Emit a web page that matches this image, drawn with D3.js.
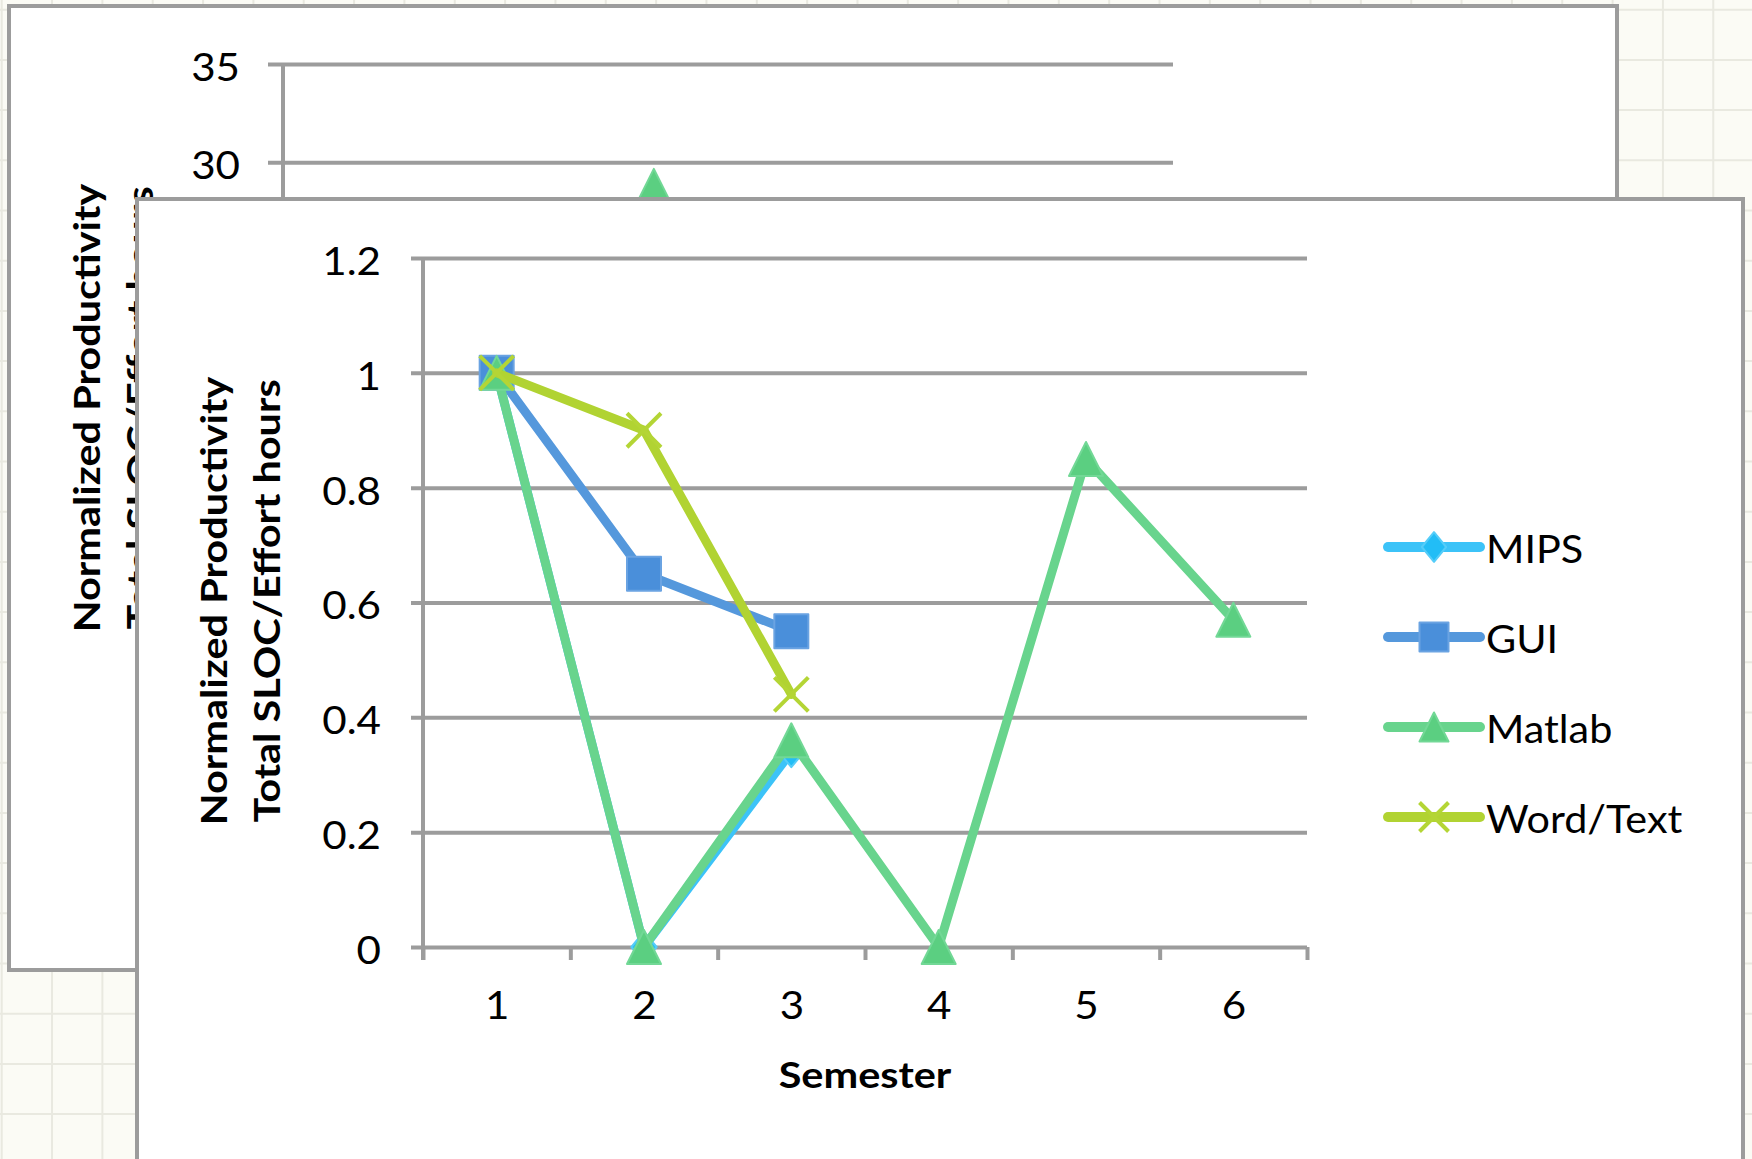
<!DOCTYPE html>
<html><head><meta charset="utf-8">
<script src="https://cdn.jsdelivr.net/npm/d3@7"></script>
<style>
html,body{margin:0;padding:0;background:#fbfbf5;}
svg{display:block;}
text{font-family:Lato,"Open Sans",sans-serif;fill:#000;}
</style></head><body>
<svg id="chart" width="1752" height="1159"></svg>
<script>
// Semesters on the x axis
const semesters = ["1", "2", "3", "4", "5", "6"];

// Normalized productivity per project type (null = no project that semester)
const mips     = [1, 0, 0.34, null, null, null];
const gui      = [1, 0.65, 0.55, null, null, null];
const matlab   = [1, 0, 0.36, 0, 0.85, 0.57];
const wordText = [1, 0.9, 0.44, null, null, null];

const seriesNames = ["MIPS", "GUI", "Matlab", "Word/Text"];
const yTicks = [0, 0.2, 0.4, 0.6, 0.8, 1, 1.2];
const yTickLabels = ["0", "0.2", "0.4", "0.6", "0.8", "1", "1.2"];

// Earlier (raw, un-normalized) sheet lying underneath
const backYTicks = [0, 5, 10, 15, 20, 25, 30, 35];
const backMatlab = [null, null, 28.8, null, null, null];

const W = 1752, H = 1159;
const svg = d3.select("#chart");

const style = {
  MIPS:        {line: "#3cc3f8", fill: "#22bdf6", edge: "#55cdf9", shape: "diamond"},
  GUI:         {line: "#5598dc", fill: "#4a8fda", edge: "#6aa3e2", shape: "square"},
  Matlab:      {line: "#68d48d", fill: "#5bcf81", edge: "#72d896", shape: "triangle"},
  "Word/Text": {line: "#b1d332", fill: "#b4d535", edge: "#b4d535", shape: "x"}
};
const gridColor = "#9c9c9c";
const tickSize = 39, tickWiden = 1.08;

// Widen glyphs along the reading direction (the sheet font is broader than Lato)
function widen(sel, f) {
  sel.each(function () {
    const len = this.getComputedTextLength();
    d3.select(this).attr("textLength", len * f).attr("lengthAdjust", "spacingAndGlyphs");
  });
}

// ---------- graph-paper background ----------
svg.append("rect").attr("width", W).attr("height", H).attr("fill", "#fbfbf5");
const bgGrid = svg.append("g").attr("stroke", "#e9e9e0").attr("stroke-width", 2);
d3.range(1.7, W, 50.34).forEach(x => bgGrid.append("line").attr("x1", x).attr("x2", x).attr("y1", 0).attr("y2", H));
d3.range(9.7, H, 50.2).forEach(y => bgGrid.append("line").attr("x1", 0).attr("x2", W).attr("y1", y).attr("y2", y));

// ---------- marker drawing ----------
function marker(g, shape, cx, cy, s, st) {
  const h = s / 2;
  if (shape === "x") {
    g.append("path")
      .attr("d", `M${cx - h},${cy - h}L${cx + h},${cy + h}M${cx - h},${cy + h}L${cx + h},${cy - h}`)
      .attr("stroke", st.fill).attr("stroke-width", 4).attr("fill", "none");
    return;
  }
  let d;
  if (shape === "square") d = `M${cx - h},${cy - h}h${s}v${s}h${-s}Z`;
  else if (shape === "triangle") d = `M${cx},${cy - h}L${cx + h},${cy + h}L${cx - h},${cy + h}Z`;
  else d = `M${cx},${cy - h * 1.1}L${cx + h * 0.9},${cy}L${cx},${cy + h * 1.1}L${cx - h * 0.9},${cy}Z`;
  g.append("path").attr("d", d).attr("fill", st.fill)
    .attr("stroke", st.edge).attr("stroke-width", 2).attr("stroke-linejoin", "round");
}

function drawTitle(g, x1, x2, cy) {
  [["Normalized Productivity", x1], ["Total SLOC/Effort hours", x2]].forEach(([t, x]) => {
    const txt = g.append("text").attr("transform", `translate(${x},${cy}) rotate(-90)`)
      .attr("text-anchor", "middle").attr("font-weight", 700).attr("font-size", 37).text(t);
    widen(txt, 1.12);
  });
}

// ---------- back sheet ----------
const back = svg.append("g");
back.append("rect").attr("x", 9).attr("y", 6).attr("width", 1608).attr("height", 964)
  .attr("fill", "#fff").attr("stroke", gridColor).attr("stroke-width", 4);
const bL = 283, bR = 1173, bT = 64, bB = 752;
const by = d3.scaleLinear().domain([0, 35]).range([bB, bT]);
const bx = d3.scalePoint().domain(semesters).range([bL, bR]).padding(0.5);
const bAxis = back.append("g").attr("transform", `translate(${bL - 15},0)`)
  .call(d3.axisLeft(by).tickValues(backYTicks).tickSize(-(bR - bL + 15)).tickPadding(28).tickFormat(d3.format("d")));
bAxis.select(".domain").remove();
bAxis.selectAll(".tick line").attr("stroke", gridColor).attr("stroke-width", 4);
bAxis.selectAll(".tick text").attr("font-size", tickSize).attr("dy", "0.42em").attr("font-family", "Lato");
widen(bAxis.selectAll(".tick text"), tickWiden);
back.append("line").attr("x1", bL).attr("x2", bL).attr("y1", bT).attr("y2", bB)
  .attr("stroke", gridColor).attr("stroke-width", 4);
drawTitle(back, 100, 153, 408);
backMatlab.forEach((v, i) => {
  if (v !== null) marker(back, "triangle", bx(semesters[i]), by(v), 34, style.Matlab);
});

// ---------- front sheet ----------
const front = svg.append("g");
front.append("rect").attr("x", 137).attr("y", 199).attr("width", 1606).attr("height", 1000)
  .attr("fill", "#fff").attr("stroke", gridColor).attr("stroke-width", 4);

const L = 423, R = 1307, T = 258, B = 947;
const y = d3.scaleLinear().domain([0, 1.2]).range([B, T]);
const x = d3.scalePoint().domain(semesters).range([L, R]).padding(0.5);

const yAxis = front.append("g").attr("transform", `translate(${L - 12},0)`)
  .call(d3.axisLeft(y).tickValues(yTicks).tickSize(-(R - L + 12)).tickPadding(30)
    .tickFormat((d, i) => yTickLabels[i]));
yAxis.select(".domain").remove();
yAxis.selectAll(".tick line").attr("stroke", gridColor).attr("stroke-width", 4);
yAxis.selectAll(".tick text").attr("font-size", tickSize).attr("dy", "0.42em").attr("font-family", "Lato");
widen(yAxis.selectAll(".tick text"), tickWiden);

// category boundary tick marks under the x axis
const xb = d3.scaleLinear().domain([0, semesters.length]).range([L, R]);
const xTickAxis = front.append("g").attr("transform", `translate(0,${B})`)
  .call(d3.axisBottom(xb).ticks(semesters.length).tickSize(13).tickFormat(""));
xTickAxis.select(".domain").remove();
xTickAxis.selectAll(".tick line").attr("stroke", gridColor).attr("stroke-width", 4);

const xAxis = front.append("g").attr("transform", `translate(0,${B})`)
  .call(d3.axisBottom(x).tickSize(0).tickPadding(44));
xAxis.select(".domain").remove();
xAxis.selectAll(".tick text").attr("font-size", tickSize).attr("font-family", "Lato").attr("dy", "0.71em");
widen(xAxis.selectAll(".tick text"), tickWiden);

front.append("line").attr("x1", L).attr("x2", L).attr("y1", T).attr("y2", B + 13)
  .attr("stroke", gridColor).attr("stroke-width", 4);

drawTitle(front, 227, 280, 601);
const xTitle = front.append("text").attr("x", (L + R) / 2).attr("y", 1088).attr("text-anchor", "middle")
  .attr("font-weight", 700).attr("font-size", 37).text("Semester");
widen(xTitle, 1.12);

// series lines and markers, drawn in series order
const seriesData = [mips, gui, matlab, wordText];
const line = d3.line().defined(d => d.v !== null).x(d => x(d.s)).y(d => y(d.v));
seriesNames.forEach((name, k) => {
  const st = style[name];
  const pts = semesters.map((s, i) => ({s, v: seriesData[k][i]}));
  const g = front.append("g");
  g.append("path").attr("d", line(pts)).attr("fill", "none").attr("stroke", st.line)
    .attr("stroke-width", 9).attr("stroke-linejoin", "round").attr("stroke-linecap", "round");
  pts.filter(p => p.v !== null).forEach(p => marker(g, st.shape, x(p.s), y(p.v), name === "MIPS" ? 28 : 34, st));
});

// legend
const lg = front.append("g");
seriesNames.forEach((name, k) => {
  const st = style[name];
  const cy = 547 + k * 90;
  lg.append("line").attr("x1", 1388).attr("x2", 1480).attr("y1", cy).attr("y2", cy)
    .attr("stroke", st.line).attr("stroke-width", 10).attr("stroke-linecap", "round");
  marker(lg, st.shape, 1434, cy, name === "MIPS" ? 27 : 29, st);
  const t = lg.append("text").attr("x", 1486).attr("y", cy + 16).attr("font-size", tickSize).text(name);
  widen(t, 1.06);
});
</script>
</body></html>
